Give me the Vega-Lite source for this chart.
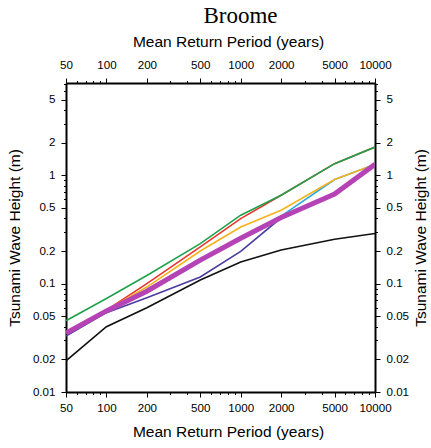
{
  "$schema": "https://vega.github.io/schema/vega-lite/v6.json",
  "width": 309,
  "height": 309,
  "autosize": "none",
  "padding": {"left": 66, "top": 83, "right": 56, "bottom": 56},
  "background": "white",
  "config": {
    "view": {"stroke": null},
    "axis": {
      "labelFont": "Liberation Sans",
      "labelFontSize": 11.6,
      "labelColor": "black",
      "titleFont": "Liberation Sans",
      "titleFontSize": 15.5,
      "titleFontWeight": "normal",
      "titleColor": "black",
      "domainColor": "black",
      "domainWidth": 2,
      "tickColor": "black",
      "tickWidth": 1,
      "grid": false
    }
  },
  "title": {
    "text": "Broome",
    "font": "Liberation Serif",
    "fontSize": 23,
    "fontWeight": "normal",
    "color": "black",
    "anchor": "middle",
    "dx": 20,
    "offset": 6
  },
  "datasets": {
    "lines": [
      {"series": "black", "period": 50, "height": 0.0194},
      {"series": "black", "period": 100, "height": 0.040},
      {"series": "black", "period": 200, "height": 0.060},
      {"series": "black", "period": 500, "height": 0.108},
      {"series": "black", "period": 1000, "height": 0.158},
      {"series": "black", "period": 2000, "height": 0.204},
      {"series": "black", "period": 5000, "height": 0.257},
      {"series": "black", "period": 10000, "height": 0.290},
      {"series": "red", "period": 50, "height": 0.035},
      {"series": "red", "period": 100, "height": 0.057},
      {"series": "red", "period": 200, "height": 0.100},
      {"series": "red", "period": 500, "height": 0.218},
      {"series": "red", "period": 1000, "height": 0.398},
      {"series": "red", "period": 2000, "height": 0.654},
      {"series": "red", "period": 5000, "height": 1.28},
      {"series": "red", "period": 10000, "height": 1.82},
      {"series": "green", "period": 50, "height": 0.0455},
      {"series": "green", "period": 100, "height": 0.073},
      {"series": "green", "period": 200, "height": 0.119},
      {"series": "green", "period": 500, "height": 0.234},
      {"series": "green", "period": 1000, "height": 0.428},
      {"series": "green", "period": 2000, "height": 0.654},
      {"series": "green", "period": 5000, "height": 1.28},
      {"series": "green", "period": 10000, "height": 1.82},
      {"series": "cyan", "period": 50, "height": 0.035},
      {"series": "cyan", "period": 100, "height": 0.057},
      {"series": "cyan", "period": 200, "height": 0.088},
      {"series": "cyan", "period": 500, "height": 0.170},
      {"series": "cyan", "period": 1000, "height": 0.265},
      {"series": "cyan", "period": 2000, "height": 0.42},
      {"series": "cyan", "period": 5000, "height": 0.912},
      {"series": "cyan", "period": 10000, "height": 1.26},
      {"series": "orange", "period": 50, "height": 0.035},
      {"series": "orange", "period": 100, "height": 0.057},
      {"series": "orange", "period": 200, "height": 0.093},
      {"series": "orange", "period": 500, "height": 0.200},
      {"series": "orange", "period": 1000, "height": 0.333},
      {"series": "orange", "period": 2000, "height": 0.476},
      {"series": "orange", "period": 5000, "height": 0.912},
      {"series": "orange", "period": 10000, "height": 1.26},
      {"series": "purple", "period": 50, "height": 0.0328},
      {"series": "purple", "period": 100, "height": 0.054},
      {"series": "purple", "period": 200, "height": 0.074},
      {"series": "purple", "period": 500, "height": 0.115},
      {"series": "purple", "period": 1000, "height": 0.198},
      {"series": "purple", "period": 2000, "height": 0.405},
      {"series": "purple", "period": 5000, "height": 0.668},
      {"series": "purple", "period": 10000, "height": 1.26}
    ],
    "magenta": [
      {"series": "magenta", "period": 50, "height": 0.035},
      {"series": "magenta", "period": 100, "height": 0.056},
      {"series": "magenta", "period": 200, "height": 0.085},
      {"series": "magenta", "period": 500, "height": 0.165},
      {"series": "magenta", "period": 1000, "height": 0.262},
      {"series": "magenta", "period": 2000, "height": 0.407},
      {"series": "magenta", "period": 5000, "height": 0.672},
      {"series": "magenta", "period": 10000, "height": 1.26}
    ]
  },
  "resolve": {"axis": {"x": "independent", "y": "independent"}},
  "layer": [
    {
      "data": {"name": "lines"},
      "mark": {"type": "line", "strokeWidth": 1.6, "clip": true},
      "encoding": {
        "x": {
          "field": "period", "type": "quantitative",
          "scale": {"type": "log", "domain": [50, 10000], "nice": false},
          "axis": {
            "orient": "bottom",
            "values": [50, 100, 200, 500, 1000, 2000, 5000, 10000],
            "format": "d",
            "tickSize": 5,
            "labelPadding": 5,
            "labelFlush": false,
            "labelOverlap": false,
            "title": "Mean Return Period (years)",
            "titleX": 162,
            "titlePadding": 11
          }
        },
        "y": {
          "field": "height", "type": "quantitative",
          "scale": {"type": "log", "domain": [0.01, 7.1], "nice": false},
          "axis": {
            "orient": "left",
            "values": [0.01, 0.02, 0.05, 0.1, 0.2, 0.5, 1, 2, 5],
            "format": "~g",
            "tickSize": 5,
            "labelPadding": 6,
            "labelFlush": false,
            "labelOverlap": false,
            "title": "Tsunami Wave Height (m)",
            "titlePadding": 10
          }
        },
        "color": {
          "field": "series", "type": "nominal",
          "scale": {
            "domain": ["black", "red", "green", "cyan", "orange", "purple", "magenta"],
            "range": ["#111111", "#e8352b", "#1fa14b", "#2aa8df", "#f6b21c", "#4a3c9e", "#b643b6"]
          },
          "legend": null
        }
      }
    },
    {
      "data": {"name": "magenta"},
      "mark": {"type": "line", "strokeWidth": 5, "color": "#b643b6", "clip": true},
      "encoding": {
        "x": {
          "field": "period", "type": "quantitative",
          "axis": {
            "orient": "top",
            "values": [50, 100, 200, 500, 1000, 2000, 5000, 10000],
            "format": "d",
            "tickSize": 5,
            "labelPadding": 8,
            "labelFlush": false,
            "labelOverlap": false,
            "title": "Mean Return Period (years)",
            "titleX": 162,
            "titlePadding": 10
          }
        },
        "y": {
          "field": "height", "type": "quantitative",
          "axis": {
            "orient": "right",
            "values": [0.01, 0.02, 0.05, 0.1, 0.2, 0.5, 1, 2, 5],
            "format": "~g",
            "tickSize": 5,
            "labelPadding": 6,
            "labelFlush": false,
            "labelOverlap": false,
            "title": "Tsunami Wave Height (m)",
            "titleAngle": 270,
            "titlePadding": 20
          }
        }
      }
    },
    {
      "data": {"name": "magenta"},
      "mark": {"type": "point", "opacity": 0},
      "encoding": {
        "x": {
          "field": "period", "type": "quantitative",
          "axis": {
            "orient": "bottom",
            "values": [60, 70, 80, 90, 300, 400, 600, 700, 800, 900, 3000, 4000, 6000, 7000, 8000, 9000],
            "labels": false, "domain": false, "tickSize": 2.5, "title": null
          }
        },
        "y": {
          "field": "height", "type": "quantitative",
          "axis": {
            "orient": "left",
            "values": [0.03, 0.04, 0.06, 0.07, 0.08, 0.09, 0.3, 0.4, 0.6, 0.7, 0.8, 0.9, 3, 4, 6, 7],
            "labels": false, "domain": false, "tickSize": 2.5, "title": null
          }
        }
      }
    },
    {
      "data": {"name": "magenta"},
      "mark": {"type": "point", "opacity": 0},
      "encoding": {
        "x": {
          "field": "period", "type": "quantitative",
          "axis": {
            "orient": "top",
            "values": [60, 70, 80, 90, 300, 400, 600, 700, 800, 900, 3000, 4000, 6000, 7000, 8000, 9000],
            "labels": false, "domain": false, "tickSize": 2.5, "title": null
          }
        },
        "y": {
          "field": "height", "type": "quantitative",
          "axis": {
            "orient": "right",
            "values": [0.03, 0.04, 0.06, 0.07, 0.08, 0.09, 0.3, 0.4, 0.6, 0.7, 0.8, 0.9, 3, 4, 6, 7],
            "labels": false, "domain": false, "tickSize": 2.5, "title": null
          }
        }
      }
    }
  ]
}
